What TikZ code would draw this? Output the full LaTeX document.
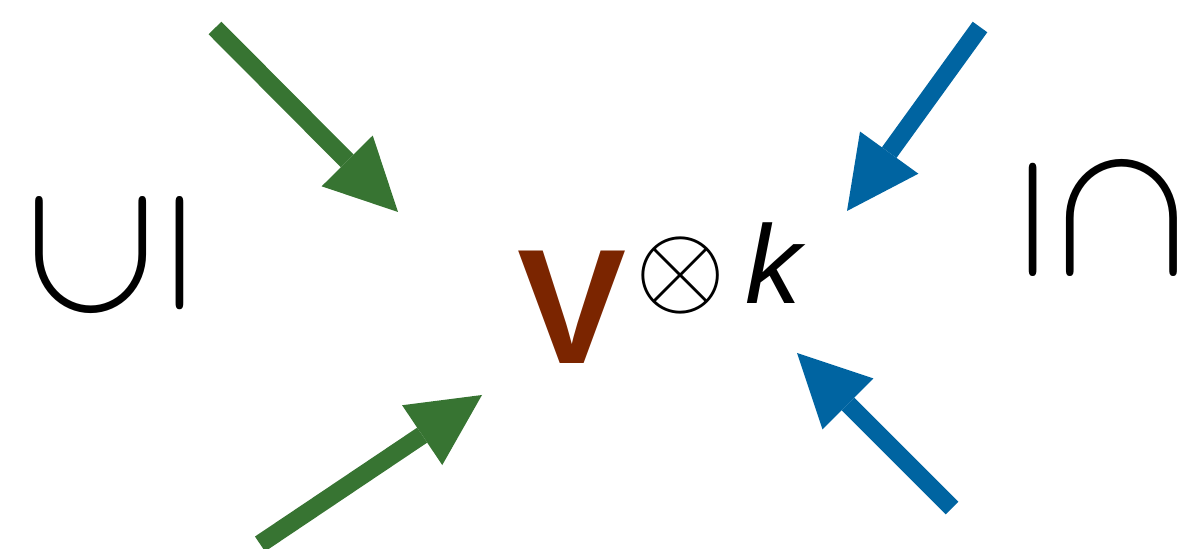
\RequirePackage{fix-cm}
\documentclass[tikz,border=0pt]{standalone}
\usepackage{amsmath,amssymb}
\usepackage{graphicx}
\usepackage{fontspec}
\setsansfont{Liberation Sans}
\usepackage{tikz}
\usetikzlibrary{arrows.meta,calc}

\definecolor{vbrown}{RGB}{123,37,0}
\definecolor{upgreen}{RGB}{55,116,50}
\definecolor{upblue}{RGB}{0,100,161}

\tikzset{
	bigarrow/.style={line width=0.18cm, -{Triangle[length=0.72cm,width=0.72cm,line width=0pt]}},
	symb/.style={inner sep=0pt, outer sep=0pt}
}

\begin{document}
\begin{tikzpicture}[x=0.01cm,y=-0.01cm]
	\useasboundingbox (0,0) rectangle (1178,549);
	% tensor power in the middle
	\node[symb, text=vbrown, font=\fontsize{46.5}{50}\selectfont\sffamily\bfseries] (vsp) at (572,307) {V};
	\node[symb] (otim) at (681,275) {\scalebox{3.3}{$\otimes$}};
	\node[symb, font=\fontsize{31.7}{34}\selectfont\sffamily\itshape] (kexp) at (773,263) {k};
	% inclusions on both sides
	\node[symb, rotate=90] (subL) at (110,255) {\scalebox{5.45}{$\subseteq$}};
	\node[symb, rotate=-90] (subR) at (1103,218) {\scalebox{5.45}{$\subseteq$}};
	% arrows pointing in
	\coordinate (gtail1) at (215,28);
	\coordinate (gtip1) at (398,212);
	\coordinate (gtail2) at (260,544);
	\coordinate (gtip2) at (482,395);
	\coordinate (btail1) at (980,27);
	\coordinate (btip1) at (847,211);
	\coordinate (btail2) at (952,508);
	\coordinate (btip2) at (797,353);
	\draw[bigarrow, upgreen] (gtail1) -- (gtip1);
	\draw[bigarrow, upgreen] (gtail2) -- (gtip2);
	\draw[bigarrow, upblue] (btail1) -- (btip1);
	\draw[bigarrow, upblue] (btail2) -- (btip2);
\end{tikzpicture}
\end{document}
